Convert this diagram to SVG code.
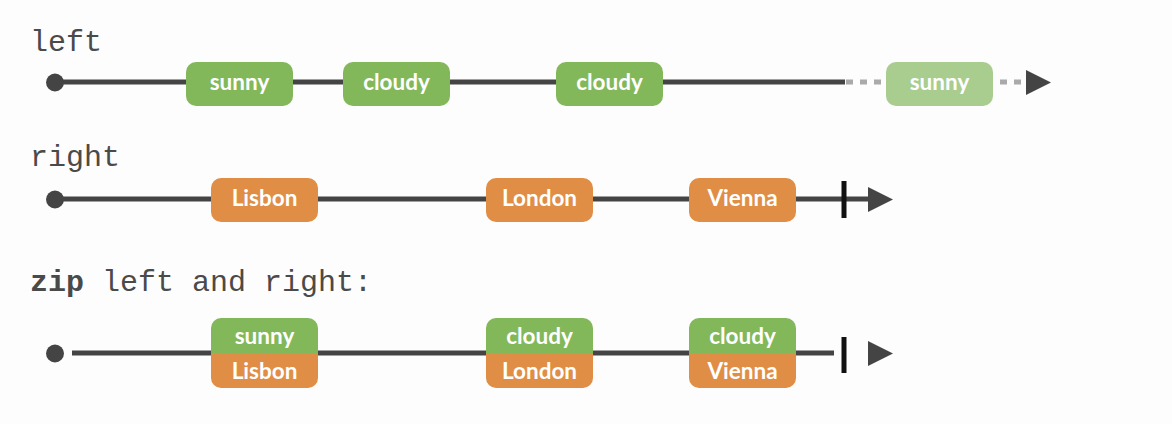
<svg xmlns="http://www.w3.org/2000/svg" width="1172" height="424" viewBox="0 0 1172 424">
<defs>
<style>
.lbl{font-family:"Liberation Mono",monospace;font-size:30px;fill:#4a4a4a}
.line{stroke:#444;stroke-width:5;fill:none}
.dash{stroke:#aaa;stroke-width:5;fill:none;stroke-dasharray:7 7}
.bar{stroke:#111;stroke-width:5}
.head{fill:#444}
.g{fill:#82b85a}
.gf{fill:#a9cc8f}
.o{fill:#e08e45}
.t{font-family:Lato,"Noto Sans",sans-serif;font-weight:bold;font-size:22.5px;fill:#fff;text-anchor:middle}
</style>
</defs>
<rect width="1172" height="424" fill="#fdfdfd"/>
<text class="lbl" x="30" y="51">left</text>
<text class="lbl" x="30" y="166">right</text>
<text class="lbl" x="30" y="291"><tspan font-weight="bold">zip</tspan> left and right:</text>
<g id="connectors">
<line class="line" x1="55" y1="82" x2="845" y2="82"/>
<line class="dash" x1="846" y1="82" x2="1026" y2="82"/>
<polygon class="head" points="1026,70 1051,82.5 1026,95"/>
<circle class="head" cx="55" cy="82.5" r="9"/>
<line class="line" x1="55" y1="199" x2="868" y2="199"/>
<circle class="head" cx="55" cy="199.5" r="9"/>
<line class="bar" x1="844" y1="181" x2="844" y2="218"/>
<polygon class="head" points="868,187 893,199.5 868,212"/>
<line class="line" x1="72" y1="353" x2="834" y2="353"/>
<circle class="head" cx="55" cy="353.5" r="9"/>
<line class="bar" x1="844" y1="337" x2="844" y2="373"/>
<polygon class="head" points="868,341 893,353.5 868,366"/>
</g>
<g id="l1"><rect class="g" x="186" y="62" width="107" height="44" rx="10"/><text class="t" x="239.5" y="89.5">sunny</text></g>
<g id="l2"><rect class="g" x="343" y="62" width="107" height="44" rx="10"/><text class="t" x="396.5" y="89.5">cloudy</text></g>
<g id="l3"><rect class="g" x="556" y="62" width="107" height="44" rx="10"/><text class="t" x="609.5" y="89.5">cloudy</text></g>
<g id="l4"><rect class="gf" x="886" y="62" width="107" height="44" rx="10"/><text class="t" x="939.5" y="89.5">sunny</text></g>
<g id="r1"><rect class="o" x="211" y="178" width="107" height="44" rx="10"/><text class="t" x="264.5" y="205.5">Lisbon</text></g>
<g id="r2"><rect class="o" x="486" y="178" width="107" height="44" rx="10"/><text class="t" x="539.5" y="205.5">London</text></g>
<g id="r3"><rect class="o" x="689" y="178" width="107" height="44" rx="10"/><text class="t" x="742.5" y="205.5">Vienna</text></g>
<g id="z1"><path class="g" d="M211,353 V328 a10,10 0 0 1 10,-10 H308 a10,10 0 0 1 10,10 V353 Z"/><path class="o" d="M211,353 V378 a10,10 0 0 0 10,10 H308 a10,10 0 0 0 10,-10 V353 Z"/><text class="t" x="264.5" y="343.5">sunny</text><text class="t" x="264.5" y="378.5">Lisbon</text></g>
<g id="z2"><path class="g" d="M486,353 V328 a10,10 0 0 1 10,-10 H583 a10,10 0 0 1 10,10 V353 Z"/><path class="o" d="M486,353 V378 a10,10 0 0 0 10,10 H583 a10,10 0 0 0 10,-10 V353 Z"/><text class="t" x="539.5" y="343.5">cloudy</text><text class="t" x="539.5" y="378.5">London</text></g>
<g id="z3"><path class="g" d="M689,353 V328 a10,10 0 0 1 10,-10 H786 a10,10 0 0 1 10,10 V353 Z"/><path class="o" d="M689,353 V378 a10,10 0 0 0 10,10 H786 a10,10 0 0 0 10,-10 V353 Z"/><text class="t" x="742.5" y="343.5">cloudy</text><text class="t" x="742.5" y="378.5">Vienna</text></g>
</svg>
